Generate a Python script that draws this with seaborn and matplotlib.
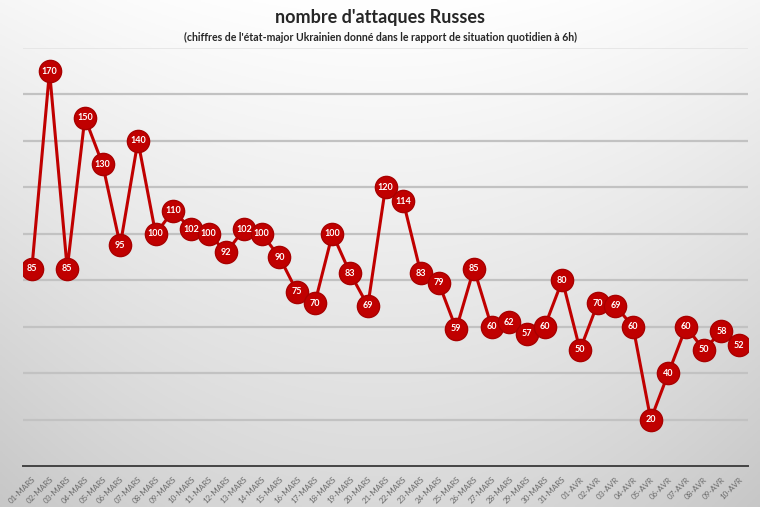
import numpy as np
import pandas as pd
import matplotlib
matplotlib.use("Agg")
import matplotlib.pyplot as plt
import seaborn as sns

dates = [f"{d:02d}-MARS" for d in range(1, 32)] + [f"{d:02d}-AVR" for d in range(1, 11)]
attaques = [85, 170, 85, 150, 130, 95, 140, 100, 110, 102, 100, 92, 102, 100, 90, 75, 70,
            100, 83, 69, 120, 114, 83, 79, 59, 85, 60, 62, 57, 60, 80,
            50, 70, 69, 60, 20, 40, 60, 50, 58, 52]
title = "nombre d'attaques Russes"
subtitle = "(chiffres de l'état-major Ukrainien donné dans le rapport de situation quotidien à 6h)"

sns.set_theme(style="white")
plt.rcParams['font.family'] = ['Lato', 'DejaVu Sans']

df = pd.DataFrame({"idx": np.arange(len(dates)), "date": dates, "val": attaques})

fig = plt.figure(figsize=(7.6, 5.07), dpi=100)

# background gradient
bg = fig.add_axes([0, 0, 1, 1], zorder=-10)
H, W = 200, 300
yy = np.linspace(0, 1, H)[:, None]
xx = np.linspace(-1, 1, W)[None, :]
val = 1.0 - 0.15 * yy - 0.07 * (xx ** 2) * (0.5 + 0.5 * yy)
img = np.dstack([val, val, val])
bg.imshow(np.clip(img, 0, 1), aspect='auto', extent=[0, 1, 0, 1], origin='upper')
bg.set_xlim(0, 1); bg.set_ylim(0, 1)
bg.axis('off')

ax = fig.add_axes([23/760, 41/507, 725/760, 418/507])
ax.patch.set_alpha(0)

for g in range(20, 161, 20):
    ax.axhline(g, color="#c2c2c2", lw=1.6, zorder=0)
ax.axhline(180, color="#e4e4e4", lw=1.2, zorder=0)

sns.lineplot(data=df, x="idx", y="val", ax=ax, color="#c00000", lw=2.2,
             marker="o", markersize=16, markerfacecolor="#c00000",
             markeredgecolor="#a80000", markeredgewidth=1.0, zorder=3)

for i, v in zip(df["idx"], df["val"]):
    ax.text(i, v, str(v), ha="center", va="center", color="white",
            fontsize=6.5, fontweight="bold", zorder=5)

ax.set_xlim(-0.5, len(dates) - 0.5)
ax.set_ylim(0, 180)
ax.set_yticks([])
ax.set_xticks(np.arange(-0.5, len(dates), 1), minor=True)
ax.set_xticks(np.arange(len(dates)))
ax.set_xticklabels(dates, rotation=45, ha="right", rotation_mode="anchor",
                   fontsize=5.8, color="#6a6a6a")
ax.tick_params(axis="x", which="major", length=0, pad=7)
ax.tick_params(axis="x", which="minor", length=4, width=1.2, color="#404040", direction="inout")
ax.set_xlabel(""); ax.set_ylabel("")
for s in ["top", "right", "left"]:
    ax.spines[s].set_visible(False)
ax.spines["bottom"].set_color("#444444")
ax.spines["bottom"].set_linewidth(1.4)

fig.text(0.5, 1 - 18/507, title, ha="center", va="center", fontsize=13,
         fontweight="bold", color="#262626")
fig.text(0.5, 1 - 37/507, subtitle, ha="center", va="center", fontsize=7.6,
         fontweight="bold", color="#262626")

fig.savefig("out.png", dpi=100)
